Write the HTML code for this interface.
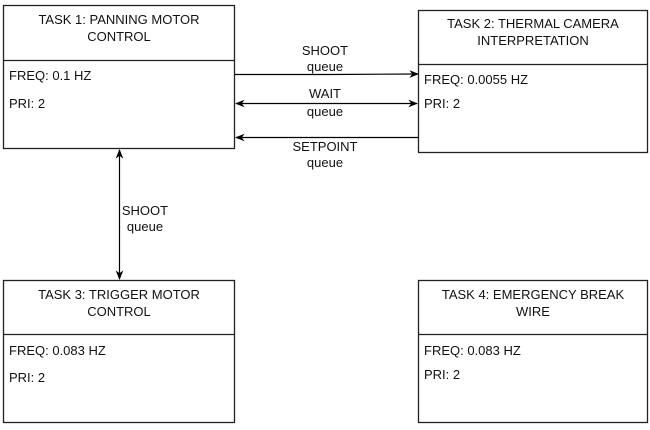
<!DOCTYPE html>
<html><head><style>
body{margin:0;width:650px;height:425px;background:#fff;overflow:hidden}
svg text{font-family:"Liberation Sans",Arial,sans-serif;font-size:13px;fill:#111}
</style></head><body>
<svg width="650" height="425" viewBox="0 0 650 425">
<defs><marker id="a" viewBox="0 0 10 10" refX="9" refY="5" markerWidth="8" markerHeight="8" orient="auto-start-reverse"><path d="M0,1 L10,5 L0,9 L3,5 Z" fill="#000"/></marker></defs>
<g fill="none" stroke="#222" stroke-width="1.3">
<rect x="3.5" y="5.5" width="231" height="143"/><line x1="3.5" y1="60.5" x2="234.5" y2="60.5"/>
<rect x="418.5" y="10.5" width="229" height="142"/><line x1="418.5" y1="64.5" x2="647.5" y2="64.5"/>
<rect x="3.5" y="280.5" width="231" height="142"/><line x1="3.5" y1="334.5" x2="234.5" y2="334.5"/>
<rect x="418.5" y="280.5" width="229" height="142"/><line x1="418.5" y1="334.5" x2="647.5" y2="334.5"/>
</g>
<g stroke="#000" stroke-width="1.2" fill="none">
<path d="M235,74.5 L330,74.5 L418,74" marker-end="url(#a)"/>
<line x1="236" y1="103.5" x2="417" y2="103.5" marker-start="url(#a)" marker-end="url(#a)"/>
<line x1="418" y1="137.5" x2="236" y2="137.5" marker-end="url(#a)"/>
<line x1="119.5" y1="150" x2="119.5" y2="279" marker-start="url(#a)" marker-end="url(#a)"/>
</g>
<g text-anchor="middle">
<text x="119" y="24">TASK 1: PANNING MOTOR</text><text x="119" y="41">CONTROL</text>
<text x="533" y="28">TASK 2: THERMAL CAMERA</text><text x="533" y="45">INTERPRETATION</text>
<text x="119" y="299">TASK 3: TRIGGER MOTOR</text><text x="119" y="316">CONTROL</text>
<text x="533" y="299">TASK 4: EMERGENCY BREAK</text><text x="533" y="316">WIRE</text>
<text x="325" y="55">SHOOT</text><text x="325" y="71">queue</text>
<text x="325" y="98">WAIT</text><text x="325" y="116">queue</text>
<text x="325" y="151">SETPOINT</text><text x="325" y="167">queue</text>
<text x="145" y="215">SHOOT</text><text x="145" y="231">queue</text>
</g>
<g>
<text x="9" y="80">FREQ: 0.1 HZ</text><text x="9" y="108">PRI: 2</text>
<text x="424" y="84">FREQ: 0.0055 HZ</text><text x="424" y="108">PRI: 2</text>
<text x="9" y="355">FREQ: 0.083 HZ</text><text x="9" y="382">PRI: 2</text>
<text x="424" y="355">FREQ: 0.083 HZ</text><text x="424" y="379">PRI: 2</text>
</g>
</svg>
</body></html>
